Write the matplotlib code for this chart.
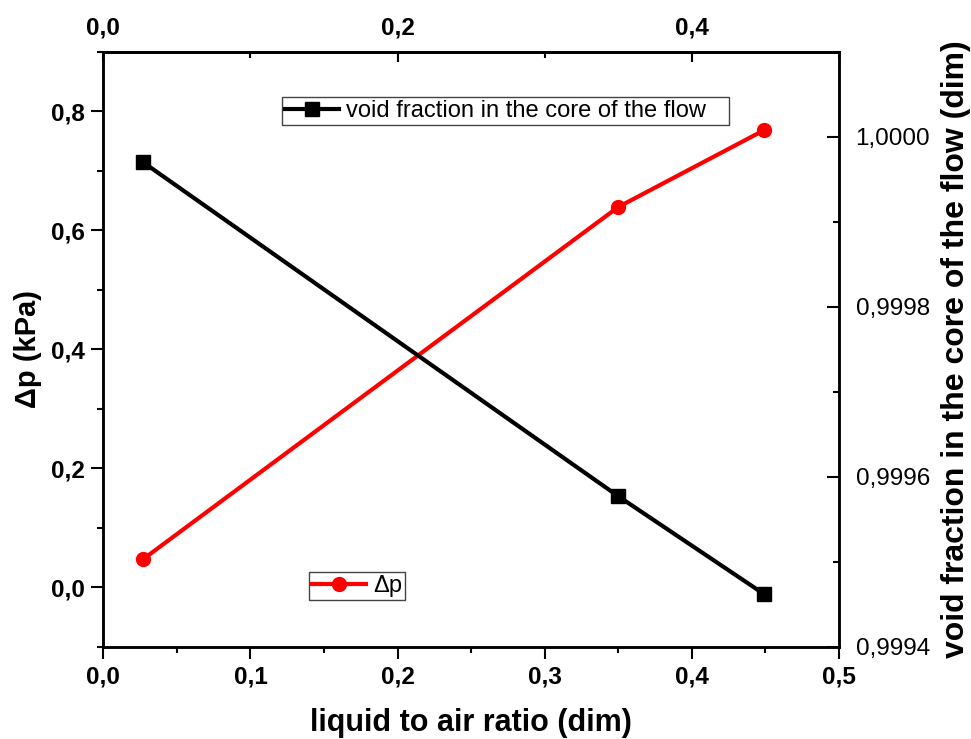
import matplotlib
matplotlib.use('Agg')
import matplotlib.pyplot as plt
from matplotlib.ticker import FuncFormatter, MultipleLocator

plt.rcParams['font.family'] = ['Liberation Sans', 'DejaVu Sans']

# data
ratio = [0.027, 0.35, 0.449]
dp_kpa = [0.047, 0.639, 0.768]
void_frac = [0.99997, 0.999577, 0.999462]


def comma(fmt):
    return FuncFormatter(lambda v, pos: (fmt % v).replace('.', ','))


fig = plt.figure(figsize=(9.71, 7.39), dpi=100)
ax = fig.add_axes([0.1064, 0.1249, 0.7576, 0.8051])

# delta p on the left axis
ln_dp, = ax.plot(ratio, dp_kpa, color='#ff0000', lw=3, marker='o', ms=10,
                 label='Δp')
ax.set_xlim(0, 0.5)
ax.set_ylim(-0.1, 0.9)
ax.xaxis.set_major_locator(MultipleLocator(0.1))
ax.xaxis.set_minor_locator(MultipleLocator(0.05))
ax.yaxis.set_major_locator(MultipleLocator(0.2))
ax.yaxis.set_minor_locator(MultipleLocator(0.1))
ax.xaxis.set_major_formatter(comma('%.1f'))
ax.yaxis.set_major_formatter(comma('%.1f'))
ax.tick_params(which='major', direction='out', length=8.5, width=1.5,
               labelsize=17.5, pad=5)
ax.tick_params(which='minor', direction='out', length=4, width=1.5)
ax.set_xlabel('liquid to air ratio (dim)', fontsize=22, fontweight='bold',
              labelpad=14)
ax.set_ylabel('Δp (kPa)', fontsize=21, fontweight='bold', labelpad=6)

# void fraction on the right axis
ax2 = ax.twinx()
ln_vf, = ax2.plot(ratio, void_frac, color='black', lw=3, marker='s', ms=9.5,
                  label='void fraction in the core of the flow   ')
ax2.set_ylim(0.9994, 1.0001)
ax2.yaxis.set_major_locator(MultipleLocator(0.0002))
ax2.yaxis.set_minor_locator(MultipleLocator(0.0001))
ax2.yaxis.set_major_formatter(comma('%.4f'))
ax2.tick_params(which='major', direction='in', length=8.5, width=1.5,
                labelsize=17.5, pad=12)
ax2.tick_params(which='minor', direction='in', length=4, width=1.5)
ax2.set_ylabel('void fraction in the core of the flow (dim)', fontsize=23,
               fontweight='bold', labelpad=8)

# top axis
top = ax.secondary_xaxis('top')
top.xaxis.set_major_locator(MultipleLocator(0.2))
top.xaxis.set_minor_locator(MultipleLocator(0.1))
top.xaxis.set_major_formatter(comma('%.1f'))
top.tick_params(which='major', direction='in', length=7, width=1.5,
                labelsize=17.5, pad=9)
top.tick_params(which='minor', direction='in', length=4, width=1.5)

for a in (ax, ax2):
    for s in a.spines.values():
        s.set_linewidth(1.8)
top.spines['top'].set_linewidth(1.8)
for t in ax.get_xticklabels() + ax.get_yticklabels() + top.get_xticklabels():
    t.set_fontweight('bold')

leg_kw = dict(loc='upper left', borderaxespad=0, fancybox=False,
              edgecolor='#444444', fontsize=17, handlelength=2.3,
              handletextpad=0.3, borderpad=0.12, framealpha=1)
leg1 = ax2.legend(handles=[ln_vf], bbox_to_anchor=(0.243, 0.924), **leg_kw)
leg1.get_frame().set_linewidth(1)
leg2 = ax2.legend(handles=[ln_dp], bbox_to_anchor=(0.280, 0.1255), **leg_kw)
leg2.get_frame().set_linewidth(1)
ax2.add_artist(leg1)

fig.savefig('out.png', dpi=100)
